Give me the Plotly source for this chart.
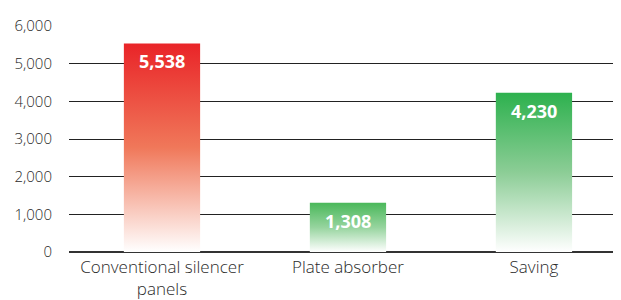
import plotly.graph_objects as go

categories = ["Conventional silencer<br>panels", "Plate absorber", "Saving"]
values = [5538, 1308, 4230]
labels = ["5,538", "1,308", "4,230"]
top_colors = ["rgb(233,36,40)", "rgb(74,184,90)", "rgb(45,177,78)"]
mid_colors = ["rgb(240,120,90)", "rgb(150,212,158)", "rgb(140,205,150)"]
tick_vals = [0, 1000, 2000, 3000, 4000, 5000, 6000]
tick_text = ["0", "1,000", "2,000", "3,000", "4,000", "5,000", "6,000"]

half_w = 0.205
fig = go.Figure()
for i, (v, c, m) in enumerate(zip(values, top_colors, mid_colors)):
    fig.add_trace(go.Scatter(
        x=[i - half_w, i + half_w, i + half_w, i - half_w, i - half_w],
        y=[0, 0, v, v, 0],
        mode="lines", line=dict(width=0), fill="toself",
        fillgradient=dict(type="vertical",
                          colorscale=[[0, "rgba(255,255,255,1)"], [0.5, m], [1, c]]),
        hoverinfo="skip", showlegend=False))

for i, (v, t) in enumerate(zip(values, labels)):
    fig.add_annotation(x=i, y=v, text=f"<b>{t}</b>", showarrow=False,
                       yanchor="top", yshift=-4,
                       font=dict(family="Open Sans", size=18, color="white"))

fig.update_layout(
    width=621, height=300,
    margin=dict(l=61, r=8, t=18, b=56),
    paper_bgcolor="white", plot_bgcolor="white",
    font=dict(family="Open Sans", size=16, color="#2a2a2a", weight=300),
    xaxis=dict(range=[-0.5, 2.468], tickmode="array", tickvals=[0, 1, 2],
               ticktext=categories, showgrid=False, zeroline=False,
               showline=False, ticks="", ticklabelstandoff=3,
               tickfont=dict(family="Open Sans", size=17, color="#2a2a2a", weight=300)),
    yaxis=dict(range=[0, 6000], tickmode="array", tickvals=tick_vals,
               ticktext=tick_text, showgrid=True, gridcolor="#222", gridwidth=1,
               zeroline=True, zerolinecolor="#333", zerolinewidth=2,
               ticks="", ticklabelstandoff=16,
               tickfont=dict(family="Open Sans", size=15, color="#2a2a2a", weight=300)),
)
fig.write_html("out.html")
